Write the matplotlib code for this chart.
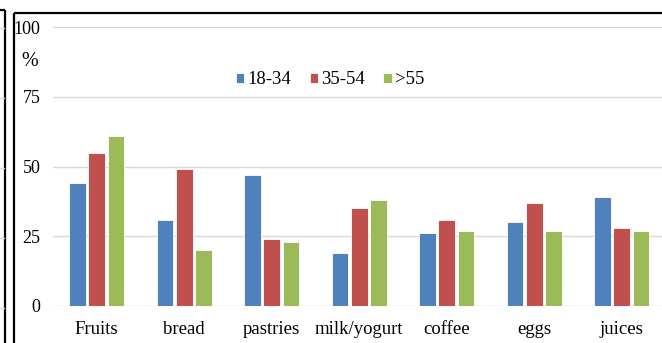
import numpy as np
import matplotlib.pyplot as plt
from matplotlib.lines import Line2D

plt.rcParams['font.family'] = ['Liberation Serif', 'DejaVu Serif']

categories = ['Fruits', 'bread', 'pastries', 'milk/yogurt', 'coffee', 'eggs', 'juices']
groups = ['18-34', '35-54', '>55']
age_18_34 = [44, 31, 47, 19, 26, 30, 39]
age_35_54 = [55, 49, 24, 35, 31, 37, 28]
age_55_up = [61, 20, 23, 38, 27, 27, 27]
yticks = [0, 25, 50, 75, 100]

colors = ['#4F81BD', '#C0504D', '#9BBB59']

W, H = 662, 343
fig = plt.figure(figsize=(W / 100, H / 100), dpi=100)

# axes placed in pixel units, right side runs past the figure edge
left, right, bottom, top = 53, 665.5, 306, 27
ax = fig.add_axes([left / W, (H - bottom) / H, (right - left) / W, (bottom - top) / H])

x = np.arange(len(categories))
width = 0.19
step = 0.222
for i, (vals, lab) in enumerate(zip([age_18_34, age_35_54, age_55_up], groups)):
    ax.bar(x + (i - 1) * step, vals, width, color=colors[i], edgecolor='white',
           linewidth=0.6, label=lab, zorder=3)

ax.set_xlim(-0.5, len(categories) - 0.5)
ax.set_ylim(0, 100)
ax.set_yticks(yticks)
ax.set_yticklabels([str(t) for t in yticks])
ax.set_xticks(x)
ax.set_xticklabels(categories)
ax.tick_params(axis='both', length=0, colors='black')
ax.tick_params(axis='y', pad=9, labelsize=13)
ax.tick_params(axis='x', pad=11, labelsize=13.5)
ax.grid(axis='y', color='#D9D9D9', linewidth=1.0, zorder=0)
for s in ax.spines.values():
    s.set_visible(False)

fig.text(30 / W, 1 - 61 / H, '%', ha='center', va='center', fontsize=14.5)

leg = ax.legend(loc='center', bbox_to_anchor=((330 - left) / (right - left), (bottom - 80) / (bottom - top)),
                ncol=3, frameon=False, fontsize=13.5, handlelength=0.45, handleheight=0.45,
                handletextpad=0.15, columnspacing=1.0, borderpad=0)

# frame lines around the panel
def fline(xs, ys, **kw):
    fig.add_artist(Line2D([v / W for v in xs], [1 - v / H for v in ys], color='black',
                          linewidth=1.6, solid_capstyle='butt', **kw))

fline([0, 5], [10, 10])
fline([5, 5], [10, 343])
fline([13.5, 662], [12.5, 12.5])
fline([13.5, 13.5], [12.5, 343])

# gridline stubs from the neighbouring panel
for yy in [28, 98, 168, 238, 308]:
    fig.add_artist(Line2D([0, 4 / W], [1 - yy / H] * 2, color='#D9D9D9', linewidth=1.0))

fig.savefig('out.png', dpi=100)
